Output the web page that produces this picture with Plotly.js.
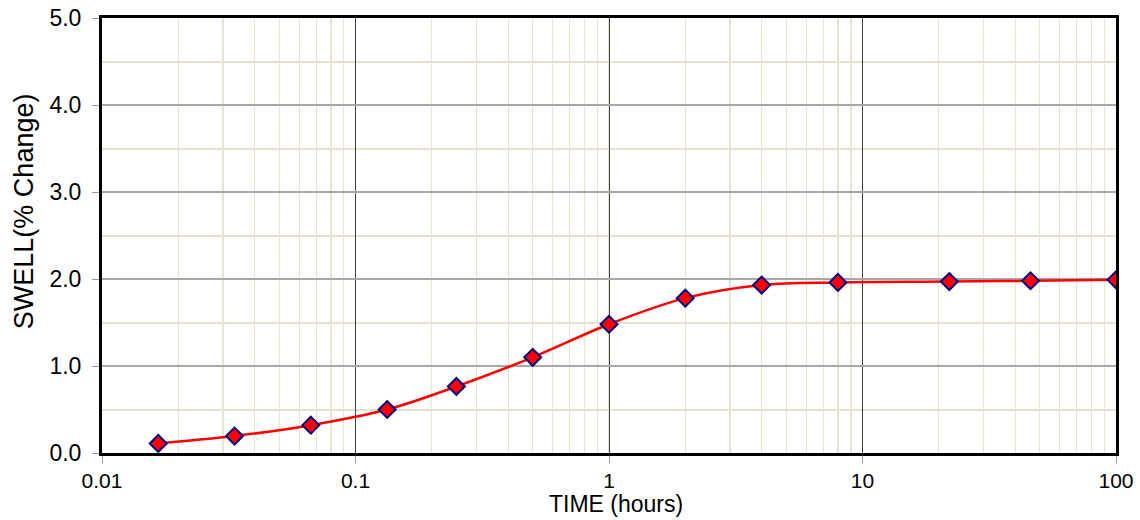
<!DOCTYPE html>
<html><head><meta charset="utf-8">
<script src="https://cdn.plot.ly/plotly-3.0.1.min.js"></script>
<style>body{margin:0;background:#fff}#c{width:1140px;height:520px}</style>
</head><body><div id="c"></div>
<script>
const timeHours = [1/60, 2/60, 4/60, 8/60, 15/60, 0.5, 1, 2, 4, 8, 22, 46, 100];
const swellPct  = [0.11, 0.195, 0.32, 0.50, 0.765, 1.10, 1.48, 1.78, 1.93, 1.96, 1.97, 1.98, 1.99];
const xTickVals = [0.01, 0.1, 1, 10, 100];
const xTickText = ['0.01', '0.1', '1', '10', '100'];
const xTitle = 'TIME (hours)';
const yTitle = 'SWELL(% Change)';

const font = 'Liberation Sans, Arial, sans-serif';
const trace = {
  x: timeHours, y: swellPct, type: 'scatter', mode: 'lines+markers',
  line: {color: '#ff0000', width: 2.5, shape: 'spline', smoothing: 1},
  marker: {symbol: 'diamond', size: 13, color: '#ff0000', line: {color: '#000080', width: 2}},
  hoverinfo: 'x+y'
};
const layout = {
  width: 1140, height: 520,
  margin: {l: 102, r: 24, t: 18, b: 67},
  paper_bgcolor: '#fff', plot_bgcolor: '#fff',
  showlegend: false,
  font: {family: font, color: '#000', size: 22},
  xaxis: {
    type: 'log', range: [-2, 2],
    tickvals: xTickVals, ticktext: xTickText,
    showgrid: true, gridcolor: '#404040', gridwidth: 1,
    minor: {dtick: 'D1', showgrid: true, gridcolor: '#e8e4d2', gridwidth: 1.2, ticks: ''},
    showline: true, linecolor: '#000', linewidth: 3, mirror: true,
    ticks: 'outside', ticklen: 7, tickcolor: '#999', tickwidth: 1,
    ticklabelstandoff: 0,
    tickfont: {size: 21, family: font},
    zeroline: false
  },
  yaxis: {
    range: [0, 5], dtick: 1, tickformat: '.1f',
    showgrid: true, gridcolor: '#a8a8a8', gridwidth: 1.5,
    minor: {dtick: 0.5, showgrid: true, gridcolor: '#e6e1cf', gridwidth: 2, ticks: ''},
    showline: true, linecolor: '#000', linewidth: 3, mirror: true,
    ticks: 'outside', ticklen: 7, tickcolor: '#999', tickwidth: 1,
    ticklabelstandoff: 6,
    tickfont: {size: 23, family: font},
    zeroline: false
  },
  annotations: [
    {text: xTitle, xref: 'paper', yref: 'paper', x: 0.507, y: -0.150, xanchor: 'center', yanchor: 'bottom',
     showarrow: false, font: {size: 23, family: font}, borderpad: 0},
    {text: yTitle, xref: 'paper', yref: 'paper', x: -0.0769, y: 0.556, xanchor: 'center', yanchor: 'middle',
     textangle: -90, showarrow: false, font: {size: 27, family: font}}
  ]
};
Plotly.newPlot('c', [trace], layout, {displayModeBar: false, staticPlot: true});
</script></body></html>
